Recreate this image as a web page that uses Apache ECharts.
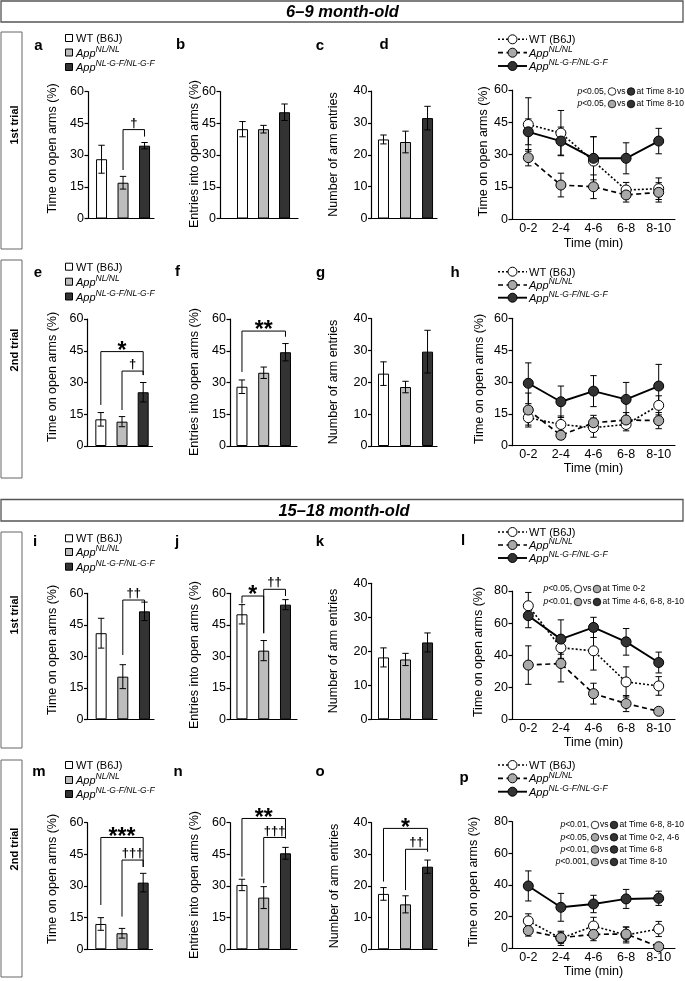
<!DOCTYPE html>
<html>
<head>
<meta charset="utf-8">
<script src="https://cdn.jsdelivr.net/npm/echarts@6/dist/echarts.min.js"></script>
<style>
html,body{margin:0;padding:0;background:#ffffff;}
#chart{width:685px;height:981px;}
</style>
</head>
<body>
<div id="chart"></div>
<script>
const FONT = "'Liberation Sans', Arial, Helvetica, sans-serif";

// ---------- categories / labels ----------
const groupBase = ['WT (B6J)', 'App', 'App'];
const groupSup  = ['', 'NL/NL', 'NL-G-F/NL-G-F'];
const timeBins  = ['0-2', '2-4', '4-6', '6-8', '8-10'];
const ticks60 = [0, 15, 30, 45, 60];
const ticks40 = [0, 10, 20, 30, 40];
const ticks80 = [0, 20, 40, 60, 80];

// ---------- 6-9 month-old, 1st trial ----------
const a_mean = [28.0, 16.9, 34.4];  const a_sem = [6.6, 3.0, 1.5];
const b_mean = [42.2, 42.2, 50.2];  const b_sem = [3.6, 1.8, 3.9];
const c_mean = [24.8, 24.0, 31.5];  const c_sem = [1.4, 3.4, 3.7];
const d_wt = [44.0, 40.0, 27.0, 13.6, 14.2];  const d_wt_sem = [12.4, 10.5, 11.3, 3.5, 5.0];
const d_nl = [28.6, 15.9, 15.1, 11.3, 12.5];  const d_nl_sem = [3.8, 5.5, 5.5, 3.3, 4.5];
const d_gf = [40.6, 36.3, 28.3, 28.3, 36.3];  const d_gf_sem = [6.0, 6.5, 10.0, 7.2, 5.9];

// ---------- 6-9 month-old, 2nd trial ----------
const e_mean = [12.6, 11.5, 25.4];  const e_sem = [3.2, 2.4, 4.6];
const f_mean = [28.0, 34.6, 44.3];  const f_sem = [3.2, 2.7, 4.1];
const g_mean = [22.7, 18.5, 29.6];  const g_sem = [3.7, 1.8, 6.7];
const h_wt = [13.2, 10.0, 8.5, 10.0, 19.0];   const h_wt_sem = [3.5, 4.0, 4.5, 3.0, 4.5];
const h_nl = [16.8, 4.9, 10.8, 12.1, 11.8];   const h_nl_sem = [8.0, 2.0, 3.5, 3.5, 3.8];
const h_gf = [29.4, 20.7, 25.7, 21.8, 28.1];  const h_gf_sem = [9.6, 7.4, 7.3, 8.0, 10.2];

// ---------- 15-18 month-old, 1st trial ----------
const i_mean = [41.0, 20.3, 51.4];  const i_sem = [7.1, 5.7, 4.4];
const j_mean = [50.0, 32.7, 54.6];  const j_sem = [4.6, 4.8, 2.4];
const k_mean = [18.2, 17.6, 22.6];  const k_sem = [2.8, 1.8, 2.8];
const l_wt = [70.8, 44.6, 42.7, 23.3, 20.8];  const l_wt_sem = [8.3, 4.0, 12.0, 9.4, 5.8];
const l_nl = [33.8, 34.8, 16.0, 9.8, 5.0];    const l_nl_sem = [12.0, 11.5, 6.5, 5.0, 1.0];
const l_gf = [64.6, 50.0, 57.3, 48.3, 35.4];  const l_gf_sem = [7.5, 12.0, 6.3, 8.3, 6.5];

// ---------- 15-18 month-old, 2nd trial ----------
const m_mean = [12.0, 7.6, 31.6];   const m_sem = [3.0, 2.3, 4.4];
const n_mean = [30.5, 24.5, 45.5];  const n_sem = [2.7, 5.2, 2.8];
const o_mean = [17.5, 14.2, 26.1];  const o_sem = [2.0, 2.7, 2.1];
const p_wt = [17.3, 6.3, 14.1, 8.4, 12.2];    const p_wt_sem = [4.5, 4.5, 5.5, 5.0, 4.8];
const p_nl = [11.2, 6.7, 8.8, 9.0, 1.0];      const p_nl_sem = [3.5, 3.5, 4.0, 4.5, 0.5];
const p_gf = [39.4, 25.9, 28.0, 31.2, 31.6];  const p_gf_sem = [9.5, 8.8, 5.5, 6.0, 4.5];

// ---------- significance brackets (group index, value units) ----------
const a_br = [{x1:1, x2:2, y:42.0, y1:22.9, y2:38.7, mark:'†'}];
const e_br = [{x1:0, x2:2, y:44.6, y1:19.4, y2:33.5, mark:'*'}, {x1:1, x2:2, y:35.4, y1:17.0, y2:33.5, mark:'†'}];
const f_br = [{x1:0, x2:2, y:54.3, y1:35.0, y2:51.6, mark:'**'}];
const i_br = [{x1:1, x2:2, y:56.8, y1:30.6, y2:54.4, mark:'††'}];
const j_br = [{x1:0, x2:1, y:58.7, y1:55.2, y2:41.0, mark:'*'}, {x1:1, x2:2, y:61.9, y1:41.0, y2:58.7, mark:'††'}];
const m_br = [{x1:0, x2:2, y:53.0, y1:21.0, y2:39.0, mark:'***'}, {x1:1, x2:2, y:42.3, y1:15.5, y2:39.0, mark:'†††'}];
const n_br = [{x1:0, x2:2, y:62.0, y1:34.4, y2:52.6, mark:'**'}, {x1:1, x2:2, y:53.0, y1:31.3, y2:52.6, mark:'†††'}];
const o_br = [{x1:0, x2:2, y:38.2, y1:21.4, y2:30.9, mark:'*'}, {x1:1, x2:2, y:31.6, y1:18.7, y2:30.9, mark:'††'}];

// ---------- statistics notes in line panels ----------
const d_stats = [['<0.05,', 0, 2, 'at Time 8-10'], ['<0.05,', 1, 2, 'at Time 8-10']];
const l_stats = [['<0.05,', 0, 1, 'at Time 0-2'], ['<0.01,', 1, 2, 'at Time 4-6, 6-8, 8-10']];
const p_stats = [['<0.01,', 0, 2, 'at Time 6-8, 8-10'], ['<0.05,', 1, 2, 'at Time 0-2, 4-6'],
                 ['<0.01,', 1, 2, 'at Time 6-8'], ['<0.001,', 1, 2, 'at Time 8-10']];

const yTitleTime = 'Time on open arms (%)';
const yTitleEntries = 'Entries into open arms (%)';
const yTitleNumber = 'Number of arm entries';

// ---------- styles ----------
const barFills = ['#ffffff', '#bdbdbd', '#333333'];
const lineFills = ['#ffffff', '#a9a9a9', '#333333'];
const lineDash = [[2, 2], [5, 3.5], null];
const lineW = [1.6, 1.7, 1.9];
const AX = {color: '#000', width: 1.2};

// ---------- layout ----------
const barPanels = [
  {L:'a', v:a_mean, e:a_sem, br:a_br, t:ticks60, g:[88, 91.5, 66, 127],   xr:[-0.63, 2.44]},
  {L:'b', v:b_mean, e:b_sem, br:[],   t:ticks60, g:[220, 91.5, 78, 127],  xr:[-1.07, 2.64]},
  {L:'c', v:c_mean, e:c_sem, br:[],   t:ticks40, g:[371.5, 91, 65.5, 127.5], xr:[-0.545, 2.43]},
  {L:'e', v:e_mean, e:e_sem, br:e_br, t:ticks60, g:[87.5, 319, 65, 127],  xr:[-0.63, 2.44]},
  {L:'f', v:f_mean, e:f_sem, br:f_br, t:ticks60, g:[230, 319, 67, 127],   xr:[-0.55, 2.53]},
  {L:'g', v:g_mean, e:g_sem, br:[],   t:ticks40, g:[371.5, 318.5, 65.5, 127.5], xr:[-0.545, 2.43]},
  {L:'i', v:i_mean, e:i_sem, br:i_br, t:ticks60, g:[87.5, 593.3, 66.5, 126], xr:[-0.63, 2.44]},
  {L:'j', v:j_mean, e:j_sem, br:j_br, t:ticks60, g:[230, 593.3, 67, 126], xr:[-0.55, 2.53]},
  {L:'k', v:k_mean, e:k_sem, br:[],   t:ticks40, g:[371.5, 583.3, 65.5, 136], xr:[-0.545, 2.43]},
  {L:'m', v:m_mean, e:m_sem, br:m_br, t:ticks60, g:[87.5, 822.7, 65, 126.6], xr:[-0.63, 2.44]},
  {L:'n', v:n_mean, e:n_sem, br:n_br, t:ticks60, g:[230, 822.7, 67, 126.6],  xr:[-0.55, 2.53]},
  {L:'o', v:o_mean, e:o_sem, br:o_br, t:ticks40, g:[371.5, 822.7, 65.5, 126.6], xr:[-0.545, 2.43]}
];
const linePanels = [
  {L:'d', s:[d_wt, d_nl, d_gf], e:[d_wt_sem, d_nl_sem, d_gf_sem], t:ticks60, g:[512, 90, 163, 129.3], gap:18},
  {L:'h', s:[h_wt, h_nl, h_gf], e:[h_wt_sem, h_nl_sem, h_gf_sem], t:ticks60, g:[512, 318.3, 163, 127.4], gap:14},
  {L:'l', s:[l_wt, l_nl, l_gf], e:[l_wt_sem, l_nl_sem, l_gf_sem], t:ticks80, g:[512, 591, 163, 128.3], gap:15},
  {L:'p', s:[p_wt, p_nl, p_gf], e:[p_wt_sem, p_nl_sem, p_gf_sem], t:ticks80, g:[512, 821.7, 163, 126.6], gap:17}
];

const option = {animation:false, backgroundColor:'#ffffff', textStyle:{fontFamily:FONT},
  grid:[], xAxis:[], yAxis:[], series:[], graphic:[]};
const G = option.graphic;

function yAxisFor(gi, t) {
  return {type:'value', gridIndex:gi, min:t[0], max:t[t.length-1], interval:t[1]-t[0],
    axisLine:{show:true, onZero:false, lineStyle:AX},
    axisTick:{show:true, length:3.5, lineStyle:AX},
    axisLabel:{margin:4, fontSize:12.5, color:'#000', fontFamily:FONT},
    splitLine:{show:false}};
}
function errItem(params, api) {
  const x = api.value(0), m = api.value(1), s = api.value(2);
  const t = api.coord([x, m + s]), b = api.coord([x, m - s]), w = 3.2;
  const st = () => ({stroke:'#000', lineWidth:1});
  return {type:'group', children:[
    {type:'line', shape:{x1:t[0], y1:t[1], x2:b[0], y2:b[1]}, style:st()},
    {type:'line', shape:{x1:t[0]-w, y1:t[1], x2:t[0]+w, y2:t[1]}, style:st()},
    {type:'line', shape:{x1:b[0]-w, y1:b[1], x2:b[0]+w, y2:b[1]}, style:st()}
  ]};
}
function bracketRender(list) {
  return function (params, api) {
    const b = list[params.dataIndex];
    const pL = api.coord([b.x1, b.y]), pR = api.coord([b.x2, b.y]);
    const pLb = api.coord([b.x1, b.y1]), pRb = api.coord([b.x2, b.y2]);
    const star = b.mark.charAt(0) === '*';
    return {type:'group', children:[
      {type:'polyline', shape:{points:[pLb, pL, pR, pRb]}, style:{stroke:'#000', lineWidth:1, fill:'none'}},
      {type:'text', x:(pL[0] + pR[0]) / 2, y:pL[1] - (star ? 0 : 6.5),
       style:{text:b.mark, fontSize: star ? 23 : 13, fontWeight:'bold', fontFamily:FONT, fill:'#000',
              align:'center', verticalAlign:'middle'}}
    ]};
  };
}

barPanels.forEach(function (p) {
  const gi = option.grid.length;
  option.grid.push({left:p.g[0], top:p.g[1], width:p.g[2], height:p.g[3], outerBoundsMode:'none'});
  option.xAxis.push({type:'value', gridIndex:gi, min:p.xr[0], max:p.xr[1],
    axisLine:{show:true, onZero:false, lineStyle:AX}, axisTick:{show:false},
    axisLabel:{show:false}, splitLine:{show:false}});
  option.yAxis.push(yAxisFor(gi, p.t));
  option.series.push({type:'bar', xAxisIndex:gi, yAxisIndex:gi, barWidth:11, z:2, silent:true,
    data:p.v.map(function (v, k) { return {value:[k, v], itemStyle:{color:barFills[k], borderColor:'#000', borderWidth:1}}; })});
  option.series.push({type:'custom', xAxisIndex:gi, yAxisIndex:gi, z:3, silent:true, renderItem:errItem,
    data:p.v.map(function (v, k) { return [k, v, p.e[k]]; })});
  if (p.br.length) {
    option.series.push({type:'custom', xAxisIndex:gi, yAxisIndex:gi, z:4, silent:true,
      renderItem:bracketRender(p.br), data:p.br.map(function (b) { return [b.x1, b.y]; })});
  }
});

linePanels.forEach(function (p) {
  const gi = option.grid.length;
  option.grid.push({left:p.g[0], top:p.g[1], width:p.g[2], height:p.g[3], outerBoundsMode:'none'});
  option.xAxis.push({type:'category', gridIndex:gi, data:timeBins, boundaryGap:true,
    axisLine:{show:true, onZero:false, lineStyle:AX}, axisTick:{show:false},
    axisLabel:{margin:2.5, fontSize:12.5, color:'#000', fontFamily:FONT, interval:0},
    name:'Time (min)', nameLocation:'middle', nameGap:p.gap,
    nameTextStyle:{fontSize:12.5, color:'#000', fontFamily:FONT}, splitLine:{show:false}});
  option.yAxis.push(yAxisFor(gi, p.t));
  for (let k = 0; k < 3; k++) {
    option.series.push({type:'custom', xAxisIndex:gi, yAxisIndex:gi, z:2, silent:true, renderItem:errItem,
      data:p.s[k].map(function (v, i) { return [i, v, p.e[k][i]]; })});
  }
  for (let k = 0; k < 3; k++) {
    option.series.push({type:'line', xAxisIndex:gi, yAxisIndex:gi, z:3, silent:true,
      data:p.s[k], symbol:'circle', symbolSize:10, showAllSymbol:true,
      lineStyle:{color:'#000', width:lineW[k], type: lineDash[k] || 'solid'},
      itemStyle:{color:lineFills[k], borderColor:'#000', borderWidth:1}});
  }
});

// ---------- frame boxes & headers ----------
function rect(x, y, w, h, col, lw) {
  G.push({type:'rect', shape:{x:x, y:y, width:w, height:h}, style:{fill:'none', stroke:col, lineWidth:lw}, silent:true});
}
function text(x, y, s, o) {
  G.push({type:'text', x:x, y:y, rotation:o.rot || 0, silent:true,
    style:Object.assign({text:s, fill:'#000', fontFamily:FONT, fontSize:12.5, align:'center', verticalAlign:'middle'}, o.st || {})});
}
rect(1, 1, 682, 21, '#555', 1.3);
rect(1, 499.5, 682, 21.5, '#555', 1.3);
text(342.5, 12, '6–9 month-old', {st:{fontSize:16.5, fontWeight:'bold', fontStyle:'italic'}});
text(344, 511, '15–18 month-old', {st:{fontSize:16.5, fontWeight:'bold', fontStyle:'italic'}});
[[32, 249, '1st trial', 125], [260, 478, '2nd trial', 350], [532, 748, '1st trial', 615], [760, 977, '2nd trial', 849]].forEach(function (r) {
  rect(1, r[0], 21, r[1] - r[0], '#666', 1);
  text(14.5, r[3], r[2], {rot:Math.PI / 2, st:{fontSize:11, fontWeight:'bold'}});
});

// panel letters
[['a',38.5,46],['b',180.5,45],['c',320,46],['d',384,45],
 ['e',38,272.5],['f',177.5,272],['g',320.7,273],['h',455,273],
 ['i',35,542],['j',177,542],['k',320,542],['l',463,541],
 ['m',39,772],['n',178,772],['o',320,772],['p',464,778]].forEach(function (q) {
  text(q[1], q[2], q[0], {st:{fontSize:15, fontWeight:'bold'}});
});

// y-axis titles
[[yTitleTime,53,148.5],[yTitleEntries,195,154],[yTitleNumber,334,154.5],[yTitleTime,483.5,151.5],
 [yTitleTime,53,377],[yTitleEntries,195,382],[yTitleNumber,334,382],[yTitleTime,480,379],
 [yTitleTime,53,650],[yTitleEntries,195,655],[yTitleNumber,334,651],[yTitleTime,479,652],
 [yTitleTime,53,879],[yTitleEntries,195,885],[yTitleNumber,334.5,886],[yTitleTime,474,882]].forEach(function (q) {
  text(q[1], q[2], q[0], {rot:Math.PI / 2, st:{fontSize:12.5}});
});

// legends
const legRich = {
  n:{fontSize:11, fontFamily:FONT, fill:'#000', verticalAlign:'bottom', lineHeight:13},
  i:{fontSize:11, fontFamily:FONT, fontStyle:'italic', fill:'#000', verticalAlign:'bottom', lineHeight:13},
  s:{fontSize:8.5, fontFamily:FONT, fontStyle:'italic', fill:'#000', verticalAlign:'bottom', lineHeight:9, padding:[0,0,5,0]}
};
function legLabel(k) {
  return groupSup[k] ? '{i|' + groupBase[k] + '}{s|' + groupSup[k] + '}' : '{n|' + groupBase[k] + '}';
}
function legText(x, y, k) {
  G.push({type:'text', x:x, y:y, silent:true,
    style:{text:legLabel(k), rich:legRich, fontFamily:FONT, fontSize:11, fill:'#000', align:'left', verticalAlign:'middle'}});
}
[[38, 52.5, 67], [266.7, 281.7, 296.5], [538.3, 552, 566.7], [765, 780, 794]].forEach(function (ys) {
  ys.forEach(function (y, k) {
    G.push({type:'rect', shape:{x:65.5, y:y - 3.5, width:7, height:7}, silent:true,
      style:{fill:barFills[k], stroke:'#000', lineWidth:1}});
    legText(76, y, k);
  });
});
[[39.3, 52.7, 66], [271.7, 285, 297.7], [532, 545, 558], [765, 778.3, 791.7]].forEach(function (ys) {
  ys.forEach(function (y, k) {
    G.push({type:'line', shape:{x1:498, y1:y, x2:527, y2:y}, silent:true,
      style:{stroke:'#000', lineWidth:lineW[k], lineDash:lineDash[k]}});
    G.push({type:'circle', shape:{cx:512.5, cy:y, r:4.5}, silent:true,
      style:{fill:lineFills[k], stroke:'#000', lineWidth:1}});
    legText(529, y, k);
  });
});

// statistics notes
function statLine(P, y, st) {
  const fs = 8.5;
  G.push({type:'text', x:P, y:y, silent:true, style:{text:'{i|p}{n|' + st[0] + '}', fontSize:fs, fontFamily:FONT,
    rich:{i:{fontStyle:'italic', fontSize:fs, fontFamily:FONT, fill:'#000'}, n:{fontSize:fs, fontFamily:FONT, fill:'#000'}},
    align:'right', verticalAlign:'middle'}});
  G.push({type:'circle', shape:{cx:P + 6, cy:y, r:3.8}, silent:true, style:{fill:lineFills[st[1]], stroke:'#000', lineWidth:0.8}});
  G.push({type:'text', x:P + 11, y:y, silent:true, style:{text:'vs', fontSize:fs, fontFamily:FONT, fill:'#000', align:'left', verticalAlign:'middle'}});
  G.push({type:'circle', shape:{cx:P + 25, cy:y, r:3.8}, silent:true, style:{fill:lineFills[st[2]], stroke:'#000', lineWidth:0.8}});
  G.push({type:'text', x:P + 30.5, y:y, silent:true, style:{text:st[3], fontSize:fs, fontFamily:FONT, fill:'#000', align:'left', verticalAlign:'middle'}});
}
[91.5, 104].forEach(function (y, i) { statLine(606, y, d_stats[i]); });
[589, 602].forEach(function (y, i) { statLine(572, y, l_stats[i]); });
[825, 837.3, 849.5, 862].forEach(function (y, i) { statLine(589, y, p_stats[i]); });

const chart = echarts.init(document.getElementById('chart'), null, {renderer:'canvas'});
chart.setOption(option);
</script>
</body>
</html>
